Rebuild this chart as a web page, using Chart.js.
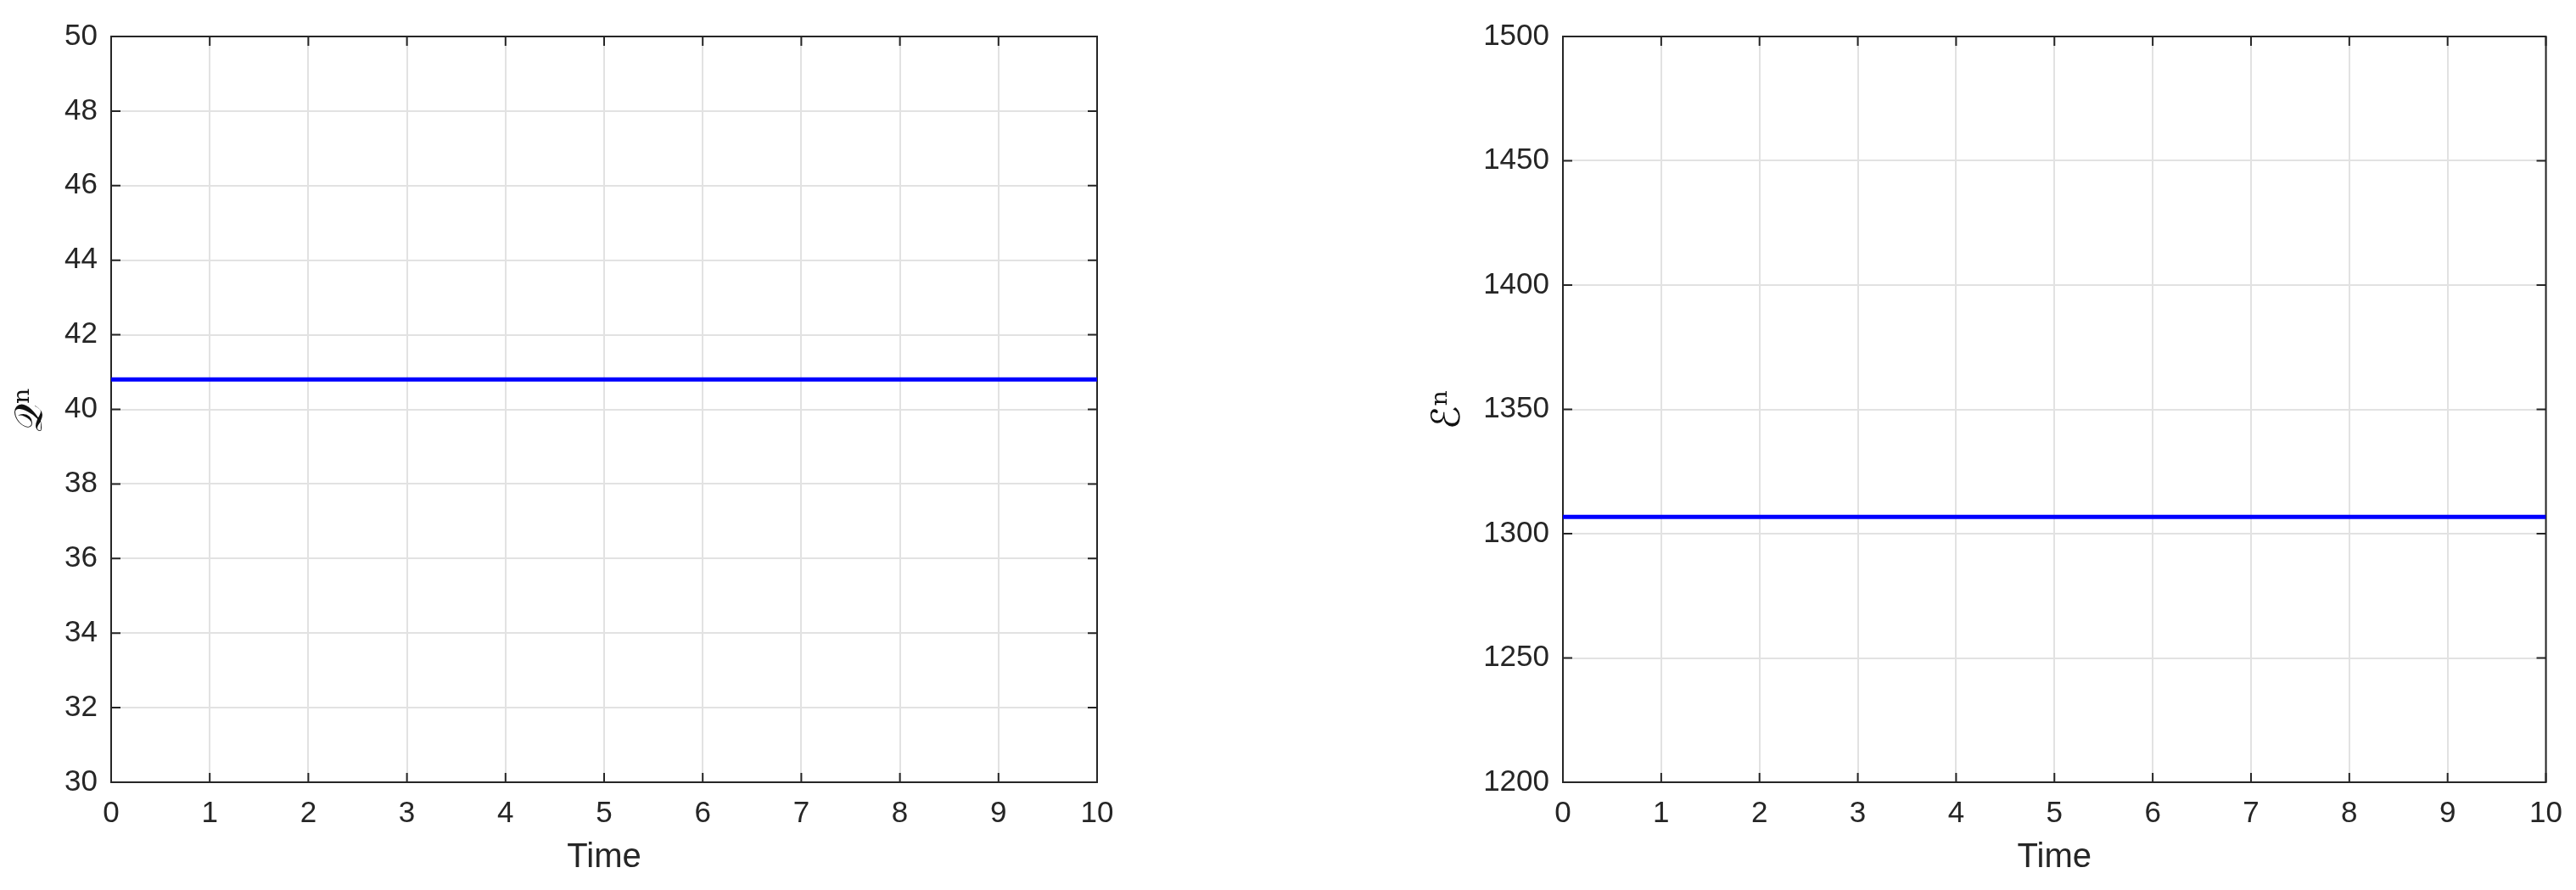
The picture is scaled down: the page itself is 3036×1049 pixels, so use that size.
<!DOCTYPE html>
<html>
<head>
<meta charset="utf-8">
<script src="https://cdn.jsdelivr.net/npm/chart.js@4.4.1/dist/chart.umd.min.js"></script>
<style>
  body { margin: 0; background: #fff; width: 3036px; height: 1049px; overflow: hidden; }
  canvas { position: absolute; top: 0; }
  #chartQ { left: 0px; }
  #chartE { left: 1660px; }
</style>
</head>
<body>
<canvas id="chartQ" width="1400" height="1049"></canvas>
<canvas id="chartE" width="1376" height="1049"></canvas>
<script>
// time samples and the two conserved quantities
const times = [0, 1, 2, 3, 4, 5, 6, 7, 8, 9, 10];
const qValues = [40.8, 40.8, 40.8, 40.8, 40.8, 40.8, 40.8, 40.8, 40.8, 40.8, 40.8];
const eValues = [1306.7, 1306.7, 1306.7, 1306.7, 1306.7, 1306.7, 1306.7, 1306.7, 1306.7, 1306.7, 1306.7];

const xTicks = [0, 1, 2, 3, 4, 5, 6, 7, 8, 9, 10];
const qTicks = [30, 32, 34, 36, 38, 40, 42, 44, 46, 48, 50];
const eTicks = [1200, 1250, 1300, 1350, 1400, 1450, 1500];

const axisColor = '#262626';
const gridColor = '#e2e2e2';

// MATLAB style box with inward tick marks on all four sides
const boxPlugin = {
  id: 'matlabBox',
  beforeDatasetsDraw(chart) {
    const ctx = chart.ctx;
    const a = chart.chartArea;
    const xs = chart.scales.x;
    const ys = chart.scales.y;
    const len = 11;
    ctx.save();
    ctx.strokeStyle = axisColor;
    ctx.lineWidth = 2;
    ctx.beginPath();
    xs.ticks.forEach(t => {
      const px = xs.getPixelForValue(t.value);
      ctx.moveTo(px, a.bottom); ctx.lineTo(px, a.bottom - len);
      ctx.moveTo(px, a.top); ctx.lineTo(px, a.top + len);
    });
    ys.ticks.forEach(t => {
      const py = ys.getPixelForValue(t.value);
      ctx.moveTo(a.left, py); ctx.lineTo(a.left + len, py);
      ctx.moveTo(a.right, py); ctx.lineTo(a.right - len, py);
    });
    ctx.stroke();
    ctx.strokeRect(a.left, a.top, a.right - a.left, a.bottom - a.top);
    ctx.restore();
  }
};

function makeChart(id, values, yTicks, yTitle, opts) {
  const ctx = document.getElementById(id);
  return new Chart(ctx, {
    type: 'line',
    data: {
      labels: times,
      datasets: [{
        data: times.map((t, i) => ({ x: t, y: values[i] })),
        borderColor: '#0000ff',
        borderWidth: 5,
        pointRadius: 0,
        fill: false
      }]
    },
    options: {
      responsive: false,
      animation: false,
      layout: { padding: { top: 43, right: opts.right, bottom: 0, left: 0 } },
      plugins: { legend: { display: false }, tooltip: { enabled: false } },
      scales: {
        x: {
          type: 'linear',
          min: 0,
          max: 10,
          afterBuildTicks: (s) => { s.ticks = xTicks.map(v => ({ value: v })); },
          afterFit: (s) => { s.height = 127; },
          grid: { color: gridColor, lineWidth: 2, drawTicks: false },
          border: { display: false },
          ticks: {
            color: axisColor,
            padding: 16,
            maxRotation: 0,
            callback: (v) => String(v),
            font: { family: 'Liberation Sans, Arial, sans-serif', size: 35 }
          },
          title: {
            display: true,
            text: 'Time',
            color: axisColor,
            padding: { top: 0, bottom: 14 },
            font: { family: 'Liberation Sans, Arial, sans-serif', size: 40 }
          }
        },
        y: {
          min: yTicks[0],
          max: yTicks[yTicks.length - 1],
          afterBuildTicks: (s) => { s.ticks = yTicks.map(v => ({ value: v })); },
          afterFit: (s) => { s.width = opts.left; },
          grid: { color: gridColor, lineWidth: 2, drawTicks: false },
          border: { display: false },
          ticks: {
            color: axisColor,
            padding: 16,
            callback: (v) => String(v),
            font: { family: 'Liberation Sans, Arial, sans-serif', size: 35 }
          },
          title: {
            display: true,
            text: yTitle,
            color: '#111',
            padding: { top: opts.titlePad, bottom: 0 },
            font: { family: 'DejaVu Serif, DejaVu Sans, serif', size: 46 }
          }
        }
      }
    },
    plugins: [boxPlugin]
  });
}

makeChart('chartQ', qValues, qTicks, '𝒬ⁿ', { left: 131, right: 107, titlePad: 9 });
makeChart('chartE', eValues, eTicks, 'ℰⁿ', { left: 182, right: 32, titlePad: 20 });
</script>
</body>
</html>
